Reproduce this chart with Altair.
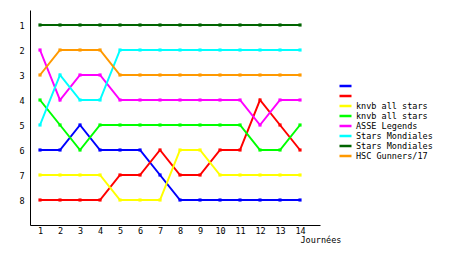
import altair as alt
import pandas as pd

rounds = list(range(1, 15))
ids = ["s0", "s1", "s2", "s3", "s4", "s5", "s6", "s7"]
names = ["", "", "knvb all stars", "knvb all stars", "ASSE Legends",
         "Stars Mondiales", "Stars Mondiales", "HSC Gunners/17"]
colors = ["#0000ff", "#ff0000", "#ffff00", "#00ff00", "#ff00ff",
          "#00ffff", "#006400", "#ff9900"]

blue = [6, 6, 5, 6, 6, 6, 7, 8, 8, 8, 8, 8, 8, 8]
red = [8, 8, 8, 8, 7, 7, 6, 7, 7, 6, 6, 4, 5, 6]
yellow = [7, 7, 7, 7, 8, 8, 8, 6, 6, 7, 7, 7, 7, 7]
green = [4, 5, 6, 5, 5, 5, 5, 5, 5, 5, 5, 6, 6, 5]
magenta = [2, 4, 3, 3, 4, 4, 4, 4, 4, 4, 4, 5, 4, 4]
cyan = [5, 3, 4, 4, 2, 2, 2, 2, 2, 2, 2, 2, 2, 2]
darkgreen = [1, 1, 1, 1, 1, 1, 1, 1, 1, 1, 1, 1, 1, 1]
orange = [3, 2, 2, 2, 3, 3, 3, 3, 3, 3, 3, 3, 3, 3]

series = [blue, red, yellow, green, magenta, cyan, darkgreen, orange]

rows = []
for i, (sid, vals) in enumerate(zip(ids, series)):
    for r, v in zip(rounds, vals):
        rows.append({"id": sid, "order": i, "round": r, "rank": v})
df = pd.DataFrame(rows)

FONT = "DejaVu Sans Mono"
label_expr = "[" + ",".join("'" + n + "'" for n in names) + "][indexof([" + \
    ",".join("'" + s + "'" for s in ids) + "], datum.label)]"

color = alt.Color(
    "id:N",
    scale=alt.Scale(domain=ids, range=colors),
    legend=alt.Legend(
        title=None, orient="none", legendX=308, legendY=71,
        symbolType="stroke", symbolStrokeWidth=2.5, symbolSize=144,
        labelFont=FONT, labelFontSize=8.5, labelColor="black",
        labelExpr=label_expr, rowPadding=0, clipHeight=10, labelOffset=3,
        symbolOffset=0, padding=0,
    ),
)

base = alt.Chart(df).encode(
    x=alt.X("round:Q",
            scale=alt.Scale(domain=[0.5, 15], nice=False, zero=False),
            axis=alt.Axis(values=rounds, title="Journées", grid=False,
                          tickSize=0, labelPadding=1, labelFont=FONT,
                          labelFontSize=8.5, titleFont=FONT, titleFontSize=8.5,
                          titleFontWeight="normal", titleAnchor="start",
                          titleAlign="left", titleX=270, titleY=10,
                          titleBaseline="top", domainColor="black",
                          labelColor="black", titleColor="black")),
    y=alt.Y("rank:Q",
            scale=alt.Scale(domain=[0.4, 9], reverse=True, nice=False, zero=False),
            axis=alt.Axis(values=[1, 2, 3, 4, 5, 6, 7, 8], title=None, grid=False,
                          tickSize=0, labelPadding=6, labelFont=FONT,
                          labelFontSize=8.5, domainColor="black",
                          labelColor="black")),
    color=color,
    detail="id:N",
    order="round:Q",
)

lines = base.mark_line(strokeWidth=2, interpolate="linear")
points = base.mark_point(shape="square", filled=True, size=10, opacity=1)

chart = alt.layer(lines, points).properties(
    width=290, height=215,
    padding={"left": 30, "top": 10, "right": 140, "bottom": 30},
    autosize=alt.AutoSizeParams(type="none"),
    background="white",
).configure_view(stroke=None)

chart.save("out.html", embed_options={"renderer": "svg", "actions": False})
